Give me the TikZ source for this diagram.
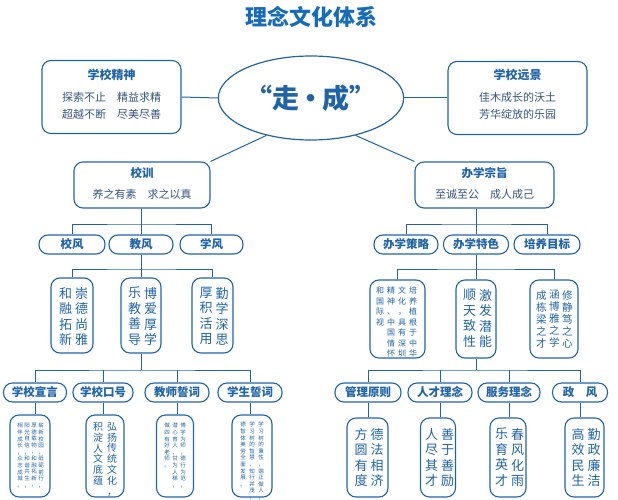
\documentclass[tikz,border=0pt]{standalone}
\usepackage{fontspec}
\setmainfont{Noto Sans CJK SC}
\usepackage{tikz}
\usetikzlibrary{shapes.geometric}

% one character per line, read top to bottom
\def\vcol#1{\vcolloop#1\relax}
\def\vcolloop#1{\ifx\relax#1\else#1\par\expandafter\vcolloop\fi}

\definecolor{ink}{RGB}{32,100,168}
\definecolor{headblue}{RGB}{22,108,186}
\definecolor{bodytext}{RGB}{55,85,125}

\tikzset{
  box/.style={draw=ink, line width=1.1pt, rounded corners=9pt, fill=white},
  pill/.style={draw=ink, line width=1.1pt, rounded corners=9pt, minimum height=19pt, fill=white,
    inner sep=0pt, text=ink, font=\bfseries\fontsize{11.5}{12}\selectfont},
  link/.style={draw=ink, line width=1pt},
  vcolbig/.style={anchor=north, inner sep=0pt, text width=1em, align=center, text=ink,
    font=\fontsize{13}{15.5}\selectfont},
  vcolmid/.style={anchor=north, inner sep=0pt, text width=1em, align=center, text=ink,
    font=\fontsize{10.5}{12}\selectfont},
  vcolsmall/.style={anchor=north, inner sep=0pt, text width=1em, align=center, text=ink,
    font=\fontsize{8}{10.5}\selectfont},
  vcoltiny/.style={anchor=north, inner sep=0pt, text width=1em, align=center, text=ink,
    font=\fontsize{5.5}{6.6}\selectfont},
}

\begin{document}
\begin{tikzpicture}[x=1pt,y=-1pt]
  \useasboundingbox (0,0) rectangle (618,500);

  % title
  \node[text=headblue, font=\bfseries\fontsize{22}{24}\selectfont] (title) at (311,17) {理念文化体系};

  % top row
  \node[draw=ink, line width=1.2pt, ellipse, minimum width=130pt, minimum height=84pt, inner sep=0pt,
    text=ink, font=\bfseries\fontsize{27}{28}\selectfont] (core) at (311,98) {“走{\kern-2pt·\kern-2pt}成”};
  \node[box, minimum width=139pt, minimum height=73pt] (spirit) at (111.5,97) {};
  \node[box, minimum width=139pt, minimum height=73pt] (vision) at (517.5,98) {};
  \node[text=ink, font=\bfseries\fontsize{12}{13}\selectfont] at (111.5,75) {学校精神};
  \node[text=bodytext, font=\fontsize{11}{16.5}\selectfont, align=center] at (111.5,106) {探索不止\quad 精益求精\\超越不断\quad 尽美尽善};
  \node[text=ink, font=\bfseries\fontsize{12}{13}\selectfont] at (517.5,75) {学校远景};
  \node[text=bodytext, font=\fontsize{11}{16.5}\selectfont, align=center] at (517.5,106) {佳木成长的沃土\\芳华绽放的乐园};
  \draw[link] (spirit.east) -- (core.west);
  \draw[link] (core.east) -- (vision.west);

  % second row
  \node[box, minimum width=136pt, minimum height=46pt] (motto) at (142,185) {};
  \node[text=ink, font=\bfseries\fontsize{11.5}{12}\selectfont] at (142,173) {校训};
  \node[text=bodytext, font=\fontsize{11}{12}\selectfont] at (142,194) {养之有素\quad 求之以真};
  \node[box, minimum width=139pt, minimum height=46pt] (aim) at (484.5,185) {};
  \node[text=ink, font=\bfseries\fontsize{11.5}{12}\selectfont] at (484.5,173) {办学宗旨};
  \node[text=bodytext, font=\fontsize{11}{12}\selectfont] at (484.5,194) {至诚至公\quad 成人成己};
  \draw[link] (core.-140) -- (motto.north east);
  \draw[link] (core.-40) -- (aim.north west);

  % left branch
  \node[pill, minimum width=66pt] (xiaofeng) at (72,244.5) {校风};
  \node[pill, minimum width=64pt] (jiaofeng) at (141,244.5) {教风};
  \node[pill, minimum width=63pt] (xuefeng) at (211.5,244.5) {学风};
  \draw[link] (motto.south -| jiaofeng) -- (jiaofeng.north);
  \draw[link] (xiaofeng.north) |- (141,224) -| (xuefeng.north);

  \node[box, minimum width=42pt, minimum height=75pt] (xfbox) at (72,315.5) {};
  \node[box, minimum width=40pt, minimum height=75pt] (jfbox) at (141,315.5) {};
  \node[box, minimum width=41pt, minimum height=75pt] (xuebox) at (212.5,315.5) {};
  \draw[link] (jiaofeng.south) -- (jfbox.north);
  \draw[link] (xfbox.north) |- (141,269) -| (xuebox.north);
  \node[vcolbig] at (80,287) {\vcol{崇德尚雅}};
  \node[vcolbig] at (64,287) {\vcol{和融拓新}};
  \node[vcolbig] at (149,287) {\vcol{博爱厚学}};
  \node[vcolbig] at (133,287) {\vcol{乐教善导}};
  \node[vcolbig] at (220.5,287) {\vcol{勤学深思}};
  \node[vcolbig] at (204.5,287) {\vcol{厚积活用}};

  \node[pill, minimum width=63pt] (declare) at (35,392.5) {学校宣言};
  \node[pill, minimum width=60pt] (slogan) at (103,392.5) {学校口号};
  \node[pill, minimum width=64pt] (toath) at (177,392.5) {教师誓词};
  \node[pill, minimum width=64pt] (soath) at (250,392.5) {学生誓词};
  \draw[link] (jfbox.south) -- (141,370);
  \draw[link] (declare.north) |- (141,370) -| (soath.north);
  \draw[link] (slogan.north) -- (slogan |- 0,370);
  \draw[link] (toath.north) -- (toath |- 0,370);

  \node[box, minimum width=40pt, minimum height=82pt] (decbox) at (30,456) {};
  \node[box, minimum width=38pt, minimum height=82pt] (slobox) at (105,456) {};
  \node[box, minimum width=37pt, minimum height=82pt] (tobox) at (175,456) {};
  \node[box, minimum width=40pt, minimum height=82pt] (sobox) at (252,456) {};
  \draw[link] (declare.south) -- (declare.south |- decbox.north);
  \draw[link] (slogan.south) -- (slogan.south |- slobox.north);
  \draw[link] (toath.south) -- (toath.south |- tobox.north);
  \draw[link] (soath.south) -- (soath.south |- sobox.north);
  \node[vcoltiny] at (41,423) {\vcol{崭新校园，砥砺前行，}};
  \node[vcoltiny] at (34,423) {\vcol{厚德载物，和融拓新，}};
  \node[vcoltiny] at (27,423) {\vcol{阳光自信，和谐共生，}};
  \node[vcoltiny] at (20,423) {\vcol{相伴成长，众志成城。}};
  \node[vcolmid, font=\fontsize{10}{10.8}\selectfont] at (112,422) {\vcol{弘扬传统文化，}};
  \node[vcolmid, font=\fontsize{10}{10.8}\selectfont] at (98,422) {\vcol{积淀人文底蕴}};
  \node[vcoltiny] at (183,423) {\vcol{博学为师，德行为范，}};
  \node[vcoltiny] at (175,423) {\vcol{潜心育人，甘为人梯，}};
  \node[vcoltiny] at (167,423) {\vcol{做四有好老师。}};
  \node[vcoltiny] at (261,422) {\vcol{学习树的秉性，端正做人，}};
  \node[vcoltiny] at (252,422) {\vcol{学习树的智慧，知行并茂，}};
  \node[vcoltiny] at (243,422) {\vcol{德智体美劳全面发展。}};

  % right branch
  \node[pill, minimum width=64pt] (strategy) at (406,244.5) {办学策略};
  \node[pill, minimum width=65pt] (feature) at (476,244.5) {办学特色};
  \node[pill, minimum width=66pt] (goal) at (547,244.5) {培养目标};
  \draw[link] (aim.south -| feature) -- (feature.north);
  \draw[link] (strategy.north) |- (476,224) -| (goal.north);

  \node[box, minimum width=55pt, minimum height=78pt] (stbox) at (397.5,319) {};
  \node[box, minimum width=40pt, minimum height=78pt] (febox) at (476,319) {};
  \node[box, minimum width=48pt, minimum height=78pt] (gobox) at (554,319) {};
  \draw[link] (feature.south) -- (febox.north);
  \draw[link] (stbox.north) |- (476,269) -| (gobox.north);
  \node[vcolsmall] at (413,287) {\vcol{培养植根于中华}};
  \node[vcolsmall] at (402,287) {\vcol{文化，具有深圳}};
  \node[vcolsmall] at (391,287) {\vcol{精神、中国情怀}};
  \node[vcolsmall] at (380,287) {\vcol{和国际视}};
  \node[vcolbig] at (484,289) {\vcol{激发潜能}};
  \node[vcolbig] at (468,289) {\vcol{顺天致性}};
  \node[vcolmid] at (567,290) {\vcol{修静笃之心}};
  \node[vcolmid] at (554,290) {\vcol{涵博雅之学}};
  \node[vcolmid] at (541,290) {\vcol{成栋梁之才}};

  \node[pill, minimum width=66pt] (manage) at (368,392.5) {管理原则};
  \node[pill, minimum width=64pt] (talent) at (440,392.5) {人才理念};
  \node[pill, minimum width=62pt] (service) at (509,392.5) {服务理念};
  \node[pill, minimum width=55pt] (govern) at (580,392.5) {政\quad 风};
  \draw[link] (febox.south) -- (476,370);
  \draw[link] (manage.north) |- (476,370) -| (govern.north);
  \draw[link] (talent.north) -- (talent |- 0,370);
  \draw[link] (service.north) -- (service |- 0,370);

  \node[box, minimum width=41pt, minimum height=79pt] (mabox) at (367.5,457.5) {};
  \node[box, minimum width=35pt, minimum height=79pt] (tabox) at (438,457.5) {};
  \node[box, minimum width=36pt, minimum height=79pt] (sebox) at (508,457.5) {};
  \node[box, minimum width=39pt, minimum height=79pt] (gobox2) at (584.5,457.5) {};
  \draw[link] (manage.south) -- (manage.south |- mabox.north);
  \draw[link] (talent.south) -- (talent.south |- tabox.north);
  \draw[link] (service.south) -- (service.south |- sebox.north);
  \draw[link] (govern.south) -- (govern.south |- gobox2.north);
  \node[vcolbig] at (375.5,428) {\vcol{德法相济}};
  \node[vcolbig] at (359.5,428) {\vcol{方圆有度}};
  \node[vcolbig] at (446,428) {\vcol{善于善励}};
  \node[vcolbig] at (430,428) {\vcol{人尽其才}};
  \node[vcolbig] at (516,428) {\vcol{春风化雨}};
  \node[vcolbig] at (500,428) {\vcol{乐育英才}};
  \node[vcolbig] at (592.5,428) {\vcol{勤政廉洁}};
  \node[vcolbig] at (576.5,428) {\vcol{高效民生}};
\end{tikzpicture}
\end{document}
